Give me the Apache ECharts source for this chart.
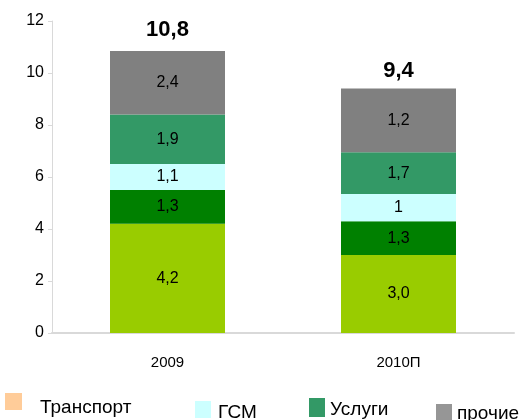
<!DOCTYPE html>
<html>
<head>
<meta charset="utf-8">
<script src="https://cdn.jsdelivr.net/npm/echarts@6/dist/echarts.min.js"></script>
<style>
  html, body { margin: 0; padding: 0; background: #fff; }
  #chart { width: 531px; height: 420px; }
</style>
</head>
<body>
<div id="chart"></div>
<script>
// категории
var years = ["2009", "2010П"];

// высоты сегментов и подписи в сегментах
var transport = [4.2, 3.0];
var transportText = ["4,2", "3,0"];
var other2 = [1.3, 1.3];
var other2Text = ["1,3", "1,3"];
var gsm = [1.0, 1.05];
var gsmText = ["1,1", "1"];
var services = [1.9, 1.6];
var servicesText = ["1,9", "1,7"];
var misc = [2.45, 2.45];
var miscText = ["2,4", "1,2"];

// итоги над столбцами
var totals = [0, 0];
var totalsText = ["10,8", "9,4"];

var yTicks = [0, 2, 4, 6, 8, 10, 12];

var FONT = "'Liberation Sans', Arial, sans-serif";

var chart = echarts.init(document.getElementById("chart"));

function segment(name, color, values, texts) {
  return {
    name: name,
    type: "bar",
    stack: "total",
    barWidth: 115,
    itemStyle: { color: color },
    label: {
      show: true,
      position: "inside",
      color: "#000",
      fontSize: 16,
      fontFamily: FONT,
      formatter: function (p) { return texts[p.dataIndex]; }
    },
    data: values
  };
}

// легенда: каждый пункт отдельно, как на исходной картинке
function legendItem(name, color, left, top, w, h, padTop, padLeft) {
  return {
    data: [{ name: name, itemStyle: { color: color } }],
    left: left,
    top: top,
    padding: 0,
    itemWidth: w,
    itemHeight: h,
    selectedMode: false,
    icon: "rect",
    formatter: "{t|{name}}",
    textStyle: {
      rich: {
        t: {
          fontSize: 19,
          fontFamily: FONT,
          color: "#000",
          padding: [padTop, 0, 0, padLeft]
        }
      }
    }
  };
}

var option = {
  animation: false,
  grid: { left: 52, right: 17, top: 21, bottom: 87 },
  legend: [
    legendItem("Транспорт", "#ffcc99", 5, 393, 17, 17, 13, 13),
    legendItem("ГСМ", "#ccffff", 195, 401, 16, 17, 7, 2),
    legendItem("Услуги", "#339966", 309, 398, 16, 19, 5, 0),
    legendItem("прочие", "#969696", 436, 404, 16, 16, 3, 0)
  ],
  xAxis: {
    type: "category",
    data: years,
    axisLine: { lineStyle: { color: "#d9d9d9", width: 2 } },
    axisTick: { show: false },
    axisLabel: { color: "#000", fontSize: 15, fontFamily: FONT, margin: 22 }
  },
  yAxis: {
    type: "value",
    min: yTicks[0],
    max: yTicks[yTicks.length - 1],
    interval: 2,
    axisLine: { show: true, lineStyle: { color: "#d9d9d9" } },
    axisTick: { show: true, length: 4, lineStyle: { color: "#d9d9d9" } },
    splitLine: { show: false },
    axisLabel: { color: "#000", fontSize: 16, fontFamily: FONT, margin: 8 }
  },
  series: [
    segment("Транспорт", "#99cc00", transport, transportText),
    segment("Другое", "#008000", other2, other2Text),
    segment("ГСМ", "#ccffff", gsm, gsmText),
    segment("Услуги", "#339966", services, servicesText),
    segment("прочие", "#808080", misc, miscText),
    {
      name: "Итого",
      type: "bar",
      stack: "total",
      barWidth: 115,
      itemStyle: { color: "transparent" },
      label: {
        show: true,
        position: "top",
        color: "#000",
        fontSize: 22,
        fontWeight: "bold",
        fontFamily: FONT,
        formatter: function (p) { return totalsText[p.dataIndex]; }
      },
      data: totals.map(function (v, i) {
        return { value: v, label: { distance: i === 0 ? 10 : 7 } };
      })
    }
  ]
};

chart.setOption(option);
</script>
</body>
</html>
